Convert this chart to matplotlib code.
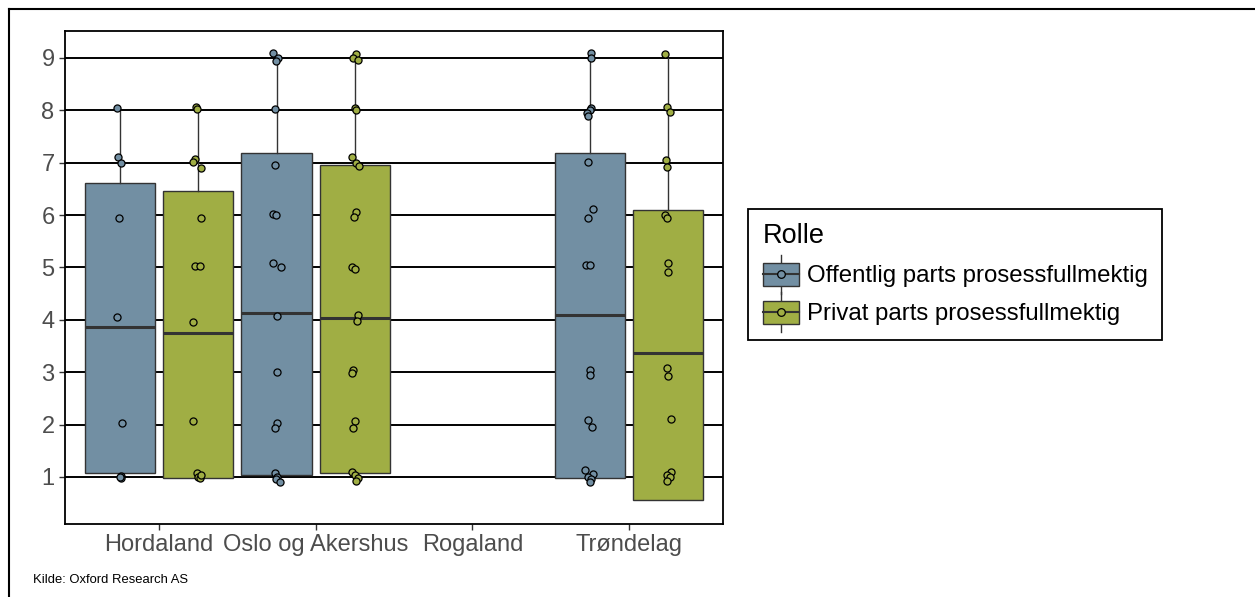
import matplotlib
matplotlib.use("Agg")
import matplotlib.pyplot as plt
from matplotlib.patches import Rectangle, Patch
from matplotlib.lines import Line2D
from matplotlib.legend_handler import HandlerBase
import numpy as np

plt.rcParams['font.family'] = ['Liberation Sans', 'DejaVu Sans']

# ---------------- data ----------------
regions = ["Hordaland", "Oslo og Akershus", "Rogaland", "Trøndelag"]
roles = ["Offentlig parts prosessfullmektig", "Privat parts prosessfullmektig"]
colors = ["#728fa3", "#a0ae44"]

# box statistics per region (None = no data)
off_whislo = [1.0, 1.0, None, 1.0]
off_q1 = [1.08, 1.03, None, 0.975]
off_med = [3.86, 4.13, None, 4.09]
off_q3 = [6.61, 7.18, None, 7.18]
off_whishi = [8.0, 9.0, None, 9.0]

priv_whislo = [1.0, 1.0, None, 0.56]
priv_q1 = [0.975, 1.07, None, 0.56]
priv_med = [3.74, 4.03, None, 3.36]
priv_q3 = [6.46, 6.96, None, 6.10]
priv_whishi = [8.0, 9.0, None, 9.0]

off_pts = [
    [8.05, 7.10, 7.00, 5.95, 4.05, 2.03, 1.02, 0.98, 1.00],
    [9.10, 9.00, 8.95, 8.03, 6.96, 6.02, 6.00, 5.08, 5.00, 4.07, 3.01, 2.03, 1.94, 1.07, 1.00, 0.95, 0.90],
    [],
    [9.10, 9.00, 8.05, 8.00, 7.95, 7.90, 7.02, 6.11, 5.95, 5.05, 5.05, 3.04, 2.95, 2.09, 1.95, 1.13, 1.05, 1.00, 0.95, 0.90],
]
off_jit = [
    [-0.02, -0.01, 0.005, -0.005, -0.02, 0.015, 0.005, 0.01, 0.0],
    [-0.025, 0.01, -0.005, -0.01, -0.01, -0.02, -0.005, -0.02, 0.03, 0.005, 0.0, 0.005, -0.01, -0.01, 0.005, -0.005, 0.02],
    [],
    [0.01, 0.005, 0.01, 0.0, -0.02, -0.01, -0.01, 0.02, -0.01, -0.025, 0.0, 0.0, 0.0, -0.01, 0.015, -0.03, 0.02, -0.01, 0.01, 0.0],
]
priv_pts = [
    [8.07, 8.03, 7.08, 7.02, 6.90, 5.95, 5.03, 5.03, 3.95, 2.07, 1.07, 1.00, 0.97, 1.03],
    [9.07, 9.00, 8.97, 8.05, 8.00, 7.10, 7.00, 6.94, 6.05, 5.96, 5.00, 4.97, 4.09, 3.98, 3.04, 2.98, 2.06, 1.93, 1.10, 1.03, 0.97, 0.92],
    [],
    [9.07, 8.07, 7.97, 7.05, 6.92, 6.00, 5.94, 5.09, 4.92, 3.08, 2.92, 2.10, 1.10, 1.03, 1.00, 0.93],
]
priv_jit = [
    [-0.015, -0.005, -0.02, -0.03, 0.015, 0.015, -0.02, 0.01, -0.03, -0.03, -0.01, 0.0, 0.01, 0.015],
    [0.01, -0.01, 0.02, 0.0, 0.005, -0.015, 0.01, 0.025, 0.01, -0.005, -0.015, 0.0, 0.02, 0.015, -0.01, -0.015, 0.0, -0.01, -0.015, 0.0, 0.02, 0.01],
    [],
    [-0.02, -0.01, 0.01, -0.015, -0.01, -0.02, -0.005, 0.0, 0.0, -0.01, 0.0, 0.02, 0.02, -0.01, 0.01, -0.005],
]
yticks = [1, 2, 3, 4, 5, 6, 7, 8, 9]
source = "Kilde: Oxford Research AS"

# ---------------- figure ----------------
fig = plt.figure(figsize=(12.55, 5.97), dpi=100)
ax = fig.add_axes([65 / 1255, 1 - 524 / 597, (723 - 65) / 1255, (524 - 31) / 597])

edge = "#333333"
for y in yticks:
    ax.axhline(y, color="black", lw=1.4, zorder=0)

groups = [
    (off_whislo, off_q1, off_med, off_q3, off_whishi, off_pts, off_jit, -0.25, colors[0]),
    (priv_whislo, priv_q1, priv_med, priv_q3, priv_whishi, priv_pts, priv_jit, 0.25, colors[1]),
]
base = np.arange(1, len(regions) + 1)
for wl, q1, med, q3, wh, pts, jit, off, col in groups:
    stats, pos = [], []
    for i in range(len(regions)):
        if q1[i] is None:
            continue
        stats.append(dict(whislo=wl[i], q1=q1[i], med=med[i], q3=q3[i], whishi=wh[i], fliers=[]))
        pos.append(base[i] + off)
    ax.bxp(stats, positions=pos, widths=0.45, patch_artist=True, showcaps=False,
           boxprops=dict(facecolor=col, edgecolor=edge, linewidth=1.0),
           whiskerprops=dict(color=edge, linewidth=1.0),
           medianprops=dict(color=edge, linewidth=2.2),
           zorder=2)
    for i in range(len(regions)):
        if not pts[i]:
            continue
        xs = base[i] + off + np.array(jit[i])
        ax.scatter(xs, pts[i], s=26, facecolor=col, edgecolor="black", linewidth=0.9, zorder=4)

ax.set_xlim(0.4, 4.6)
ax.set_ylim(0.10, 9.515)
ax.set_xticks(base)
ax.set_xticklabels(regions)
ax.set_yticks(yticks)
ax.tick_params(axis="both", labelsize=17, labelcolor="#4d4d4d", color="#333333",
               length=4, width=1.0)
for s in ax.spines.values():
    s.set_linewidth(1.3)
    s.set_color("black")


class BoxKey(HandlerBase):
    def create_artists(self, legend, orig_handle, xdescent, ydescent, width, height, fontsize, trans):
        col = orig_handle.get_facecolor()
        cx = -xdescent + width / 2
        y0 = -ydescent
        bw = width * 0.95
        bh = height * 1.0
        by = y0 + (height - bh) / 2
        rect = Rectangle((cx - bw / 2, by), bw, bh, facecolor=col, edgecolor=edge, lw=1.0, transform=trans)
        vl = Line2D([cx, cx], [y0 - height * 0.35, y0 + height * 1.35], color=edge, lw=1.0, transform=trans)
        hl = Line2D([cx - bw / 2, cx + bw / 2], [y0 + height / 2] * 2, color=edge, lw=1.5, transform=trans)
        dot = Line2D([cx], [y0 + height / 2], marker="o", markersize=5.5, markerfacecolor=col,
                     markeredgecolor="black", markeredgewidth=0.9, transform=trans)
        return [vl, rect, hl, dot]


handles = [Patch(facecolor=c) for c in colors]
leg = fig.legend(handles, roles, handler_map={Patch: BoxKey()}, title="Rolle",
                 loc="upper left", bbox_to_anchor=(748 / 1255, 1 - 209 / 597),
                 borderaxespad=0.0,
                 fontsize=17.3, title_fontsize=19.5, frameon=True, fancybox=False,
                 edgecolor="black", framealpha=1, handlelength=1.55, handleheight=1.1,
                 handletextpad=0.3, labelspacing=0.55, borderpad=0.6)
leg._legend_box.align = "left"
leg.get_frame().set_linewidth(1.3)

fig.text(33 / 1255, 1 - 583 / 597, source, fontsize=9.4,
         family=["Liberation Sans Narrow", "Liberation Sans", "DejaVu Sans"])

# outer frame (top and left edges)
fig.add_artist(Line2D([9 / 1255, 1], [1 - 9 / 597, 1 - 9 / 597], color="black", lw=1.5,
                      transform=fig.transFigure))
fig.add_artist(Line2D([9 / 1255, 9 / 1255], [0, 1 - 9 / 597], color="black", lw=1.5,
                      transform=fig.transFigure))

fig.savefig("out.png", dpi=100)
